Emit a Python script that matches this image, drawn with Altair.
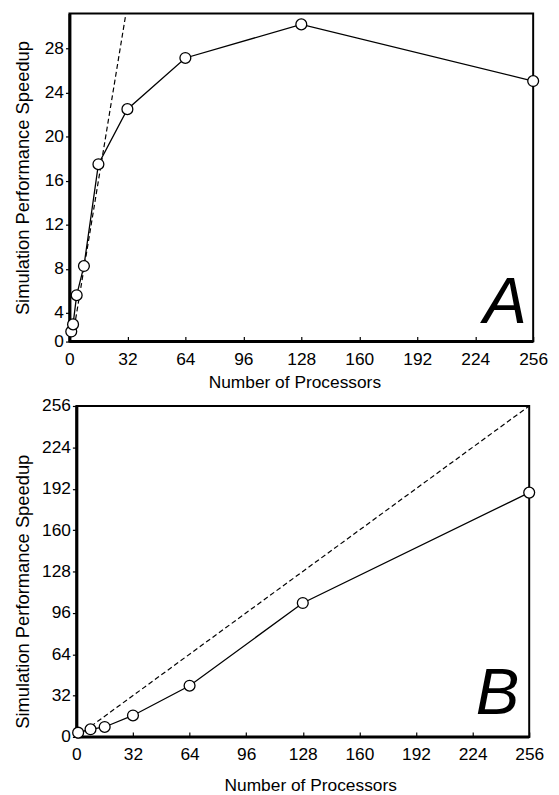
import altair as alt
import pandas as pd

FONT = "Liberation Sans"

# ---- Panel A data ----
procs_a = [1, 2, 4, 8, 16, 32, 64, 128, 256]
speedup_a = [2.3, 2.95, 5.6, 8.25, 17.5, 22.5, 27.15, 30.2, 25.05]
ideal_a_x = [2, 31]
ideal_a_y = [2, 31]

# ---- Panel B data ----
procs_b = [1, 8, 16, 32, 64, 128, 256]
speedup_b = [3.3, 5.9, 7.7, 16.6, 39.6, 103.6, 189]
ideal_b_x = [1, 256]
ideal_b_y = [1, 256]

# ---- axes ----
x_domain = [0, 256]
x_ticks = list(range(0, 257, 16))
y_domain_a = [1.39, 31.18]
y_ticks_a = [1.39, 4, 8, 12, 16, 20, 24, 28]
y_domain_b = [0, 256]
y_ticks_b = list(range(0, 257, 32))

label_a = {"text": "A", "x": 252.5, "y": 3.1}
label_b = {"text": "B", "x": 250.4, "y": 17.6}

X_TITLE = "Number of Processors"
Y_TITLE = "Simulation Performance Speedup"


def panel(procs, speedup, ix, iy, xs, ys, xax, yax, ydom, lab, w, h):
    df = pd.DataFrame({"procs": procs, "speedup": speedup})
    ideal = pd.DataFrame({"procs": ix, "speedup": iy})
    one = pd.DataFrame({"k": [0]})

    line = alt.Chart(df).mark_line(color="black", strokeWidth=1.3).encode(
        x=alt.X("procs:Q", scale=xs, axis=xax),
        y=alt.Y("speedup:Q", scale=ys, axis=yax),
    )
    dashed = alt.Chart(ideal).mark_line(
        color="black", strokeWidth=1.2, strokeDash=[5, 3]
    ).encode(
        x=alt.X("procs:Q", scale=xs),
        y=alt.Y("speedup:Q", scale=ys),
    )
    frame = alt.Chart(one).mark_rect(
        filled=False, stroke="black", strokeWidth=2
    ).encode(
        x=alt.XDatum(x_domain[0], scale=xs),
        x2=alt.X2Datum(x_domain[1]),
        y=alt.YDatum(ydom[0], scale=ys),
        y2=alt.Y2Datum(ydom[1]),
    )
    base_rule = alt.Chart(one).mark_rule(color="black", strokeWidth=3).encode(
        x=alt.XDatum(x_domain[0], scale=xs),
        x2=alt.X2Datum(x_domain[1]),
        y=alt.YDatum(ydom[0], scale=ys),
    )
    pts = alt.Chart(df).mark_point(
        shape="circle", filled=True, fill="white", stroke="black",
        strokeWidth=1.3, size=120, opacity=1
    ).encode(
        x=alt.X("procs:Q", scale=xs),
        y=alt.Y("speedup:Q", scale=ys),
    )
    txt = alt.Chart(one).mark_text(
        text=lab["text"], font=FONT, fontSize=66, fontStyle="italic",
        align="right", baseline="alphabetic", color="black"
    ).encode(
        x=alt.XDatum(lab["x"], scale=xs),
        y=alt.YDatum(lab["y"], scale=ys),
    )
    return alt.layer(line, dashed, frame, base_rule, pts, txt).properties(
        width=w, height=h
    )


tick_expr = "datum.value % 32 == 0 ? datum.label : ''"

# Panel A
W_A, H_A = 468, 331
xs_a = alt.Scale(domain=x_domain, nice=False, zero=False)
ys_a = alt.Scale(domain=y_domain_a, nice=False, zero=False)
xax_a = alt.Axis(
    values=x_ticks, labelExpr=tick_expr, offset=-5, tickSize=5, tickWidth=1.2,
    domain=False, labelPadding=9, labelFlush=False, labelOverlap=False,
    title=X_TITLE, titlePadding=6, titleX=227, grid=False,
)
yax_a = alt.Axis(
    values=y_ticks_a, labelExpr="datum.value < 2 ? '0' : datum.label",
    tickSize=4, tickWidth=1.2, domain=True, domainWidth=3, labelPadding=2,
    labelOverlap=False, labelFlush=False, title=Y_TITLE, titlePadding=12,
    titleFontSize=18.5, grid=False,
)
top = panel(procs_a, speedup_a, ideal_a_x, ideal_a_y, xs_a, ys_a, xax_a, yax_a,
            y_domain_a, label_a, W_A, H_A)

# Panel B
W_B, H_B = 464, 334
xs_b = alt.Scale(domain=x_domain, range=[7, W_B], nice=False, zero=False)
ys_b = alt.Scale(domain=y_domain_b, nice=False, zero=False)
xax_b = alt.Axis(
    values=x_ticks, labelExpr=tick_expr, offset=-5, tickSize=5, tickWidth=1.2,
    domain=False, labelPadding=9, labelFlush=False, labelOverlap=False,
    title=X_TITLE, titlePadding=14, titleX=243, grid=False,
)
yax_b = alt.Axis(
    values=y_ticks_b, offset=-7, tickSize=4, tickWidth=1.2, domain=True,
    domainWidth=3, labelPadding=2, labelOverlap=False, labelFlush=False,
    title=Y_TITLE, titlePadding=9.3, titleY=187, titleFontSize=18.5, grid=False,
)
bottom = panel(procs_b, speedup_b, ideal_b_x, ideal_b_y, xs_b, ys_b, xax_b, yax_b,
               y_domain_b, label_b, W_B, H_B)

chart = alt.vconcat(top, bottom, spacing=4).properties(
    padding={"left": 5, "top": 0, "right": 2, "bottom": 0},
    background="white",
).configure(font=FONT).configure_view(stroke="transparent").configure_axis(
    labelFont=FONT, titleFont=FONT, labelFontSize=17.5, titleFontSize=17.5,
    labelColor="black", titleColor="black", titleFontWeight="normal",
    tickColor="black", domainColor="black",
)

chart.save("out.html", embed_options={"renderer": "svg", "actions": False})
